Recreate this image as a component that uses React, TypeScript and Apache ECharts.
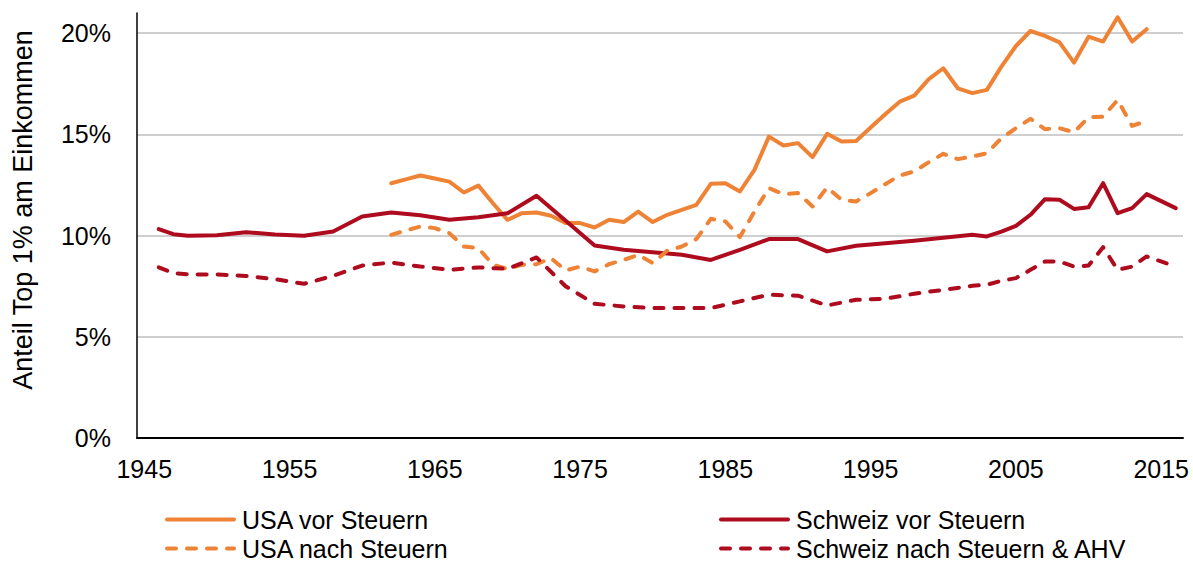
import React, { useEffect, useRef } from "react";
import * as echarts from "echarts";

// Categories (years) and tick labels
const firstYear = 1945;
const lastYear = 2016;
const categories: string[] = [];
for (let y = firstYear; y <= lastYear; y++) categories.push(String(y));
const yTickValues = [0, 5, 10, 15, 20];

// USA vor Steuern
const usaVorYears = [1962, 1963, 1964, 1965, 1966, 1967, 1968, 1969, 1970, 1971, 1972, 1973, 1974, 1975, 1976, 1977, 1978, 1979, 1980, 1981, 1982, 1983, 1984, 1985, 1986, 1987, 1988, 1989, 1990, 1991, 1992, 1993, 1994, 1995, 1996, 1997, 1998, 1999, 2000, 2001, 2002, 2003, 2004, 2005, 2006, 2007, 2008, 2009, 2010, 2011, 2012, 2013, 2014];
const usaVorValues = [12.59, 12.78, 12.97, 12.82, 12.67, 12.13, 12.47, 11.6, 10.78, 11.11, 11.14, 10.98, 10.62, 10.62, 10.4, 10.78, 10.67, 11.19, 10.67, 11.03, 11.27, 11.52, 12.56, 12.59, 12.18, 13.25, 14.89, 14.45, 14.57, 13.88, 15.03, 14.65, 14.68, 15.34, 16.0, 16.62, 16.92, 17.73, 18.27, 17.28, 17.04, 17.2, 18.35, 19.37, 20.11, 19.87, 19.55, 18.55, 19.83, 19.59, 20.79, 19.59, 20.2];

// USA nach Steuern
const usaNachYears = usaVorYears;
const usaNachValues = [10.04, 10.25, 10.45, 10.37, 10.12, 9.46, 9.38, 8.56, 8.35, 8.56, 8.59, 8.89, 8.28, 8.47, 8.23, 8.59, 8.8, 9.05, 8.64, 9.26, 9.46, 9.83, 10.83, 10.7, 9.93, 11.19, 12.35, 12.05, 12.1, 11.44, 12.38, 11.77, 11.69, 12.1, 12.54, 12.97, 13.17, 13.63, 14.04, 13.78, 13.91, 14.07, 14.81, 15.31, 15.77, 15.26, 15.31, 15.11, 15.85, 15.88, 16.7, 15.42, 15.67];

// Schweiz vor Steuern
const chVorYears = [1946, 1947, 1948, 1950, 1952, 1954, 1956, 1958, 1960, 1962, 1964, 1966, 1968, 1970, 1972, 1976, 1978, 1980, 1982, 1984, 1986, 1988, 1990, 1992, 1994, 1996, 1998, 2000, 2002, 2003, 2004, 2005, 2006, 2007, 2008, 2009, 2010, 2011, 2012, 2013, 2014, 2016];
const chVorValues = [10.32, 10.07, 9.99, 10.02, 10.17, 10.05, 9.99, 10.2, 10.94, 11.14, 11.01, 10.78, 10.91, 11.1, 11.97, 9.51, 9.3, 9.18, 9.05, 8.8, 9.3, 9.83, 9.83, 9.22, 9.5, 9.62, 9.75, 9.9, 10.04, 9.96, 10.2, 10.48, 11.03, 11.8, 11.77, 11.32, 11.4, 12.59, 11.11, 11.36, 12.05, 11.36];

// Schweiz nach Steuern & AHV
const chNachYears = [1946, 1947, 1948, 1950, 1952, 1954, 1956, 1958, 1960, 1962, 1964, 1966, 1968, 1970, 1972, 1974, 1976, 1978, 1980, 1982, 1984, 1986, 1988, 1990, 1992, 1994, 1996, 1998, 2000, 2002, 2003, 2004, 2005, 2006, 2007, 2008, 2009, 2010, 2011, 2012, 2013, 2014, 2016];
const chNachValues = [8.43, 8.15, 8.08, 8.08, 8.01, 7.85, 7.62, 8.01, 8.52, 8.67, 8.47, 8.31, 8.43, 8.36, 8.92, 7.5, 6.63, 6.5, 6.42, 6.42, 6.42, 6.75, 7.08, 7.03, 6.55, 6.83, 6.88, 7.13, 7.32, 7.52, 7.57, 7.77, 7.9, 8.31, 8.72, 8.72, 8.47, 8.52, 9.43, 8.31, 8.47, 8.97, 8.47];

const ORANGE = "#EE8336";
const RED = "#AE0B1E";
const FONT = "'Liberation Sans', Arial, sans-serif";
const DASH = [9, 11];

const pairs = (ys: number[], vs: number[]) => ys.map((y, i) => [String(y), vs[i]]);

export default function App() {
  const ref = useRef<HTMLDivElement>(null);
  useEffect(() => {
    if (!ref.current) return;
    const chart = echarts.init(ref.current, undefined, { renderer: "svg" });
    const lineSeries = (name: string, data: any[], color: string, dashed: boolean) => ({
      name,
      type: "line",
      data,
      symbol: "none",
      showSymbol: false,
      connectNulls: true,
      lineStyle: { color, width: 4, type: dashed ? DASH : "solid", cap: "round", join: "round" },
      itemStyle: { color },
    });
    const legend = (name: string, left: number, top: number) => ({
      data: [name],
      left,
      top,
      padding: 0,
      itemWidth: 67,
      itemHeight: 14,
      selectedMode: false,
      lineStyle: { width: 4 },
      itemStyle: { opacity: 0, borderWidth: 0 },
      textStyle: { fontSize: 25, lineHeight: 22, color: "#000", fontFamily: FONT, padding: [0, 0, 0, 3] },
    });
    chart.setOption({
      animation: false,
      backgroundColor: "#fff",
      grid: { left: 137, right: 10, top: 13, bottom: 124, containLabel: false },
      xAxis: {
        type: "category",
        data: categories,
        boundaryGap: true,
        axisLine: { show: true, lineStyle: { color: "#000", width: 2 } },
        axisTick: { show: false },
        axisLabel: { interval: 9, fontSize: 25, color: "#000", fontFamily: FONT, margin: 18 },
        splitLine: { show: false },
      },
      yAxis: {
        type: "value",
        min: 0,
        max: 21,
        interval: 5,
        axisLine: { show: true, lineStyle: { color: "#000", width: 1.5 } },
        axisTick: { show: false },
        axisLabel: {
          showMaxLabel: false,
          fontSize: 25,
          color: "#000",
          fontFamily: FONT,
          margin: 26,
          formatter: (v: number) => (yTickValues.indexOf(v) >= 0 ? v + "%" : ""),
        },
        splitLine: { show: true, showMaxLine: false, lineStyle: { color: "#BFBFBF", width: 1.5 } },
      },
      legend: [
        legend("USA vor Steuern", 165, 507),
        legend("USA nach Steuern", 165, 536),
        legend("Schweiz vor Steuern", 719, 507),
        legend("Schweiz nach Steuern & AHV", 719, 536),
      ],
      graphic: [
        {
          type: "text",
          x: 23,
          y: 210,
          rotation: Math.PI / 2,
          style: {
            text: "Anteil Top 1% am Einkommen",
            fill: "#000",
            font: `27px ${FONT}`,
            textAlign: "center",
            textVerticalAlign: "middle",
          },
        },
      ],
      series: [
        lineSeries("USA vor Steuern", pairs(usaVorYears, usaVorValues), ORANGE, false),
        lineSeries("Schweiz vor Steuern", pairs(chVorYears, chVorValues), RED, false),
        lineSeries("USA nach Steuern", pairs(usaNachYears, usaNachValues), ORANGE, true),
        lineSeries("Schweiz nach Steuern & AHV", pairs(chNachYears, chNachValues), RED, true),
      ],
    });
    return () => chart.dispose();
  }, []);
  return (
    <div
      ref={ref}
      style={{ position: "fixed", left: 0, top: 0, width: 1193, height: 562, background: "#fff" }}
    />
  );
}
